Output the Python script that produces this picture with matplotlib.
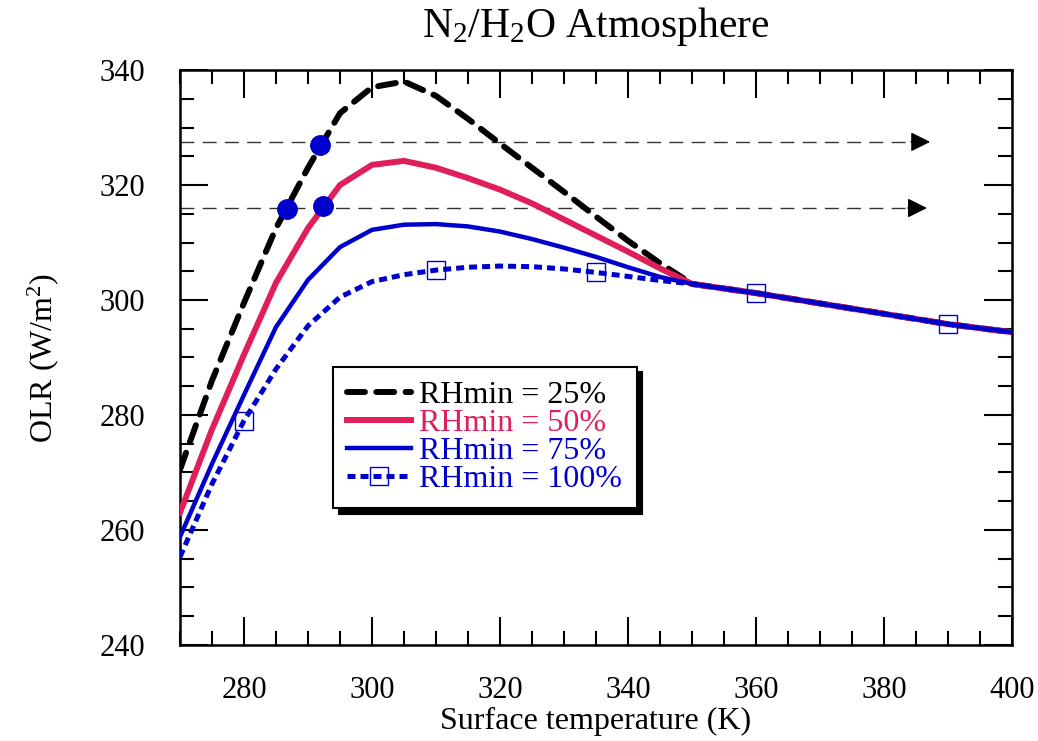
import matplotlib
matplotlib.use("Agg")
import matplotlib.pyplot as plt
from matplotlib.ticker import MultipleLocator

plt.rcParams["font.family"] = ["Liberation Serif", "DejaVu Serif"]
plt.rcParams["mathtext.fontset"] = "custom"
plt.rcParams["mathtext.rm"] = "Liberation Serif"
plt.rcParams["mathtext.it"] = "Liberation Serif:italic"

# surface temperature (K)
temps = [270, 275, 280, 285, 290, 295, 300, 305, 310, 315, 320, 325, 330, 335,
         340, 345, 350, 355, 360, 365, 370, 375, 380, 385, 390, 395, 400]

# shared high-temperature tail (all RH curves merge above ~350 K)
tail = [302.0, 301.2, 300.3, 299.4, 298.5, 297.6, 296.7, 295.8, 295.1, 294.4]

olr_25 = [270.5, 286.0, 299.5, 312.5, 323.0, 332.5, 337.0, 338.0, 335.5, 331.5,
          327.2, 323.0, 318.8, 314.5, 310.3, 306.4, 302.8] + tail
olr_50 = [263.0, 277.5, 290.5, 303.0, 312.5, 320.0, 323.5, 324.2, 323.0, 321.2,
          319.2, 316.8, 314.0, 311.2, 308.4, 305.5, 302.8] + tail
olr_75 = [258.8, 271.5, 283.5, 295.3, 303.5, 309.2, 312.2, 313.1, 313.2, 312.8,
          311.9, 310.6, 309.1, 307.5, 305.7, 304.0, 302.8] + tail
olr_100 = [255.3, 268.0, 279.0, 288.0, 295.5, 300.5, 303.2, 304.4, 305.2, 305.7,
           305.9, 305.8, 305.4, 304.8, 304.1, 303.4, 302.8] + tail
marker_idx = [2, 8, 13, 18, 24]

# highlighted points and the dashed arrows
dot_t = [286.7, 291.9, 292.3]
dot_olr = [315.8, 327.0, 316.3]
arrow_olr = [327.5, 316.0]
arrow_end = [387.2, 386.7]

PINK = "#E01E5A"
BLUE = "#0000CC"

fig = plt.figure(figsize=(10.38, 7.41), dpi=100)
ax = fig.add_axes([0.1734, 0.1296, 0.8016, 0.7759])

# arrows
for yv, xe in zip(arrow_olr, arrow_end):
    ax.plot([270, xe - 2], [yv, yv], color="#333333", lw=1.0, dashes=(10, 6), zorder=1)
    ax.annotate("", xy=(xe, yv), xytext=(xe - 3, yv),
                arrowprops=dict(arrowstyle="-|>", color="black", lw=1.0,
                                mutation_scale=30, shrinkA=0, shrinkB=0))

l25, = ax.plot(temps, olr_25, color="black", lw=4.3, dashes=(3.0, 1.9),
               dash_capstyle="round", label="RHmin = 25%", zorder=3)
l50, = ax.plot(temps, olr_50, color=PINK, lw=4.3, label="RHmin = 50%", zorder=3)
l100, = ax.plot(temps, olr_100, color=BLUE, lw=3.6, dashes=(1.6, 1.0),
                marker="s", markevery=marker_idx, markersize=13, markerfacecolor="none",
                markeredgecolor=BLUE, markeredgewidth=1.0, label="RHmin = 100%", zorder=4)
l75, = ax.plot(temps, olr_75, color=BLUE, lw=3.2, label="RHmin = 75%", zorder=5)

ax.plot(dot_t, dot_olr, "o", color=BLUE, markersize=14, zorder=6)

ax.set_xlim(270, 400)
ax.set_ylim(240, 340)
ax.xaxis.set_major_locator(MultipleLocator(20))
ax.xaxis.set_minor_locator(MultipleLocator(5))
ax.yaxis.set_major_locator(MultipleLocator(20))
ax.yaxis.set_minor_locator(MultipleLocator(5))
ax.set_xticks([280, 300, 320, 340, 360, 380, 400])
ax.tick_params(which="both", direction="in", top=True, right=True, width=1.5,
               labelsize=22)
ax.tick_params(which="major", length=20)
ax.tick_params(axis="x", which="major", pad=22)
ax.tick_params(axis="y", which="major", pad=25)
ax.tick_params(which="minor", length=10)
for sp in ax.spines.values():
    sp.set_linewidth(1.8)

ax.set_xlabel("Surface temperature (K)", fontsize=23, labelpad=2)
ax.set_ylabel("OLR (W/m$^2$)", fontsize=23, labelpad=28)
ax.set_title("N$_2$/H$_2$O Atmosphere", fontsize=30, pad=24)

leg = ax.legend(handles=[l25, l50, l75, l100], loc="lower left",
                bbox_to_anchor=(0.184, 0.238), borderaxespad=0, fontsize=23,
                frameon=True, fancybox=False, handlelength=2.0, handletextpad=0.25,
                labelspacing=-0.05, borderpad=0.45,
                shadow={"color": "black", "alpha": 1.0, "ox": 4, "oy": -4})
leg.get_frame().set_edgecolor("black")
leg.get_frame().set_linewidth(1.5)
for txt, c in zip(leg.get_texts(), ["black", PINK, BLUE, BLUE]):
    txt.set_color(c)

fig.savefig("out.png", dpi=100)
